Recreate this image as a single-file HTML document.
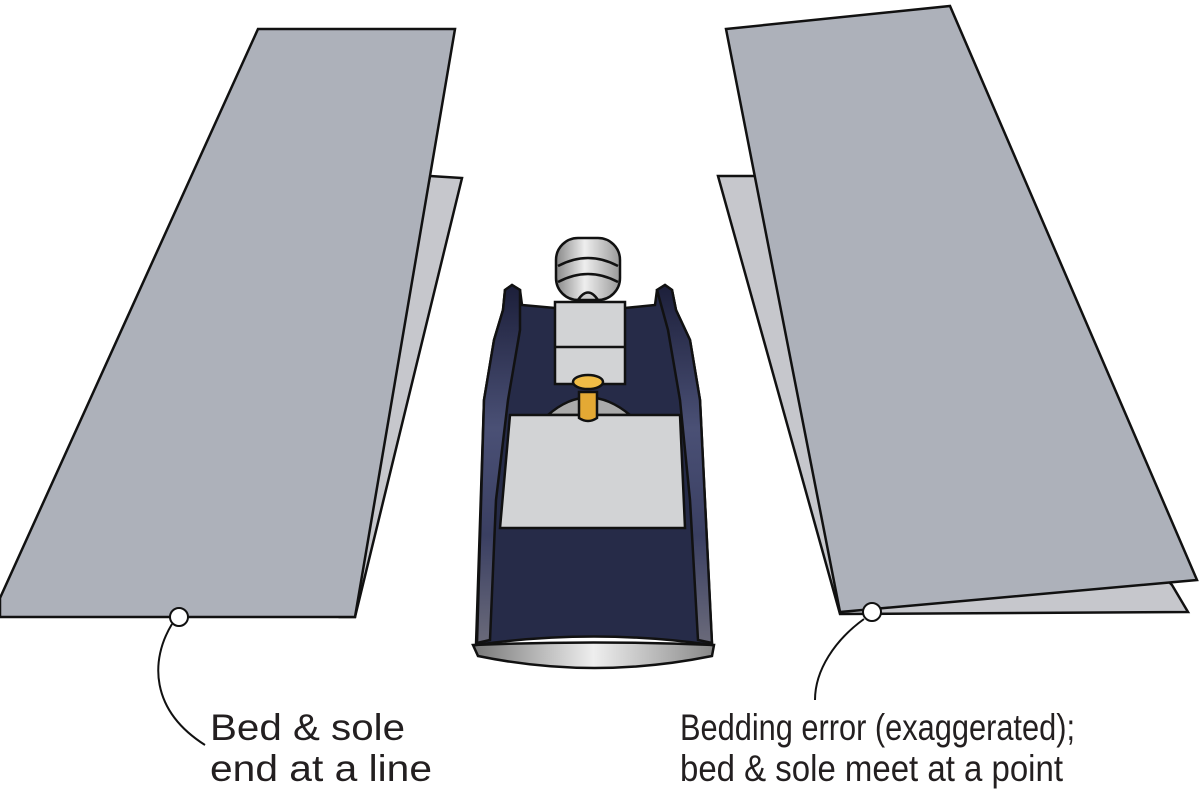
<!DOCTYPE html>
<html><head><style>body{margin:0;background:#fff}svg{display:block}text{font-family:"Liberation Sans",sans-serif;font-size:37px;fill:#231f20}</style></head><body>
<svg width="1200" height="799" viewBox="0 0 1200 799" xmlns="http://www.w3.org/2000/svg">
<defs>
<linearGradient id="sole" x1="0" x2="1"><stop offset="0" stop-color="#777"/><stop offset=".5" stop-color="#eee"/><stop offset="1" stop-color="#888"/></linearGradient>
<linearGradient id="knob" x1="0" x2="1"><stop offset="0" stop-color="#888"/><stop offset=".45" stop-color="#eee"/><stop offset="1" stop-color="#999"/></linearGradient>
<linearGradient id="rail" x1="0" y1="0" x2="0" y2="1"><stop offset="0" stop-color="#1c1f3a"/><stop offset=".4" stop-color="#4a5075"/><stop offset=".7" stop-color="#3a3f62"/><stop offset="1" stop-color="#6a6a7a"/></linearGradient>
</defs>
<g stroke="#111" stroke-width="2.5" stroke-linejoin="miter">
<polygon points="430,176 462,178 355,617 340,617" fill="#c6c7cc"/>
<polygon points="258,29 455,29 355,617 0,617 0,598" fill="#adb1ba"/>
<polygon points="718,176 760,176 1172,585 1188,612 840,614" fill="#c6c7cc"/>
<polygon points="726,29 950,6 1197,580 840,612" fill="#adb1ba"/>
</g>
<g stroke="#111" stroke-width="2" fill="none">
<path d="M172,624 C150,660 150,710 205,745"/>
<path d="M864,619 C835,640 815,670 815,700"/>
</g>
<circle cx="179" cy="617" r="9" fill="#fff" stroke="#111" stroke-width="2"/>
<circle cx="872" cy="612" r="9" fill="#fff" stroke="#111" stroke-width="2"/>
<g stroke="#111" stroke-width="2.5">
<path d="M473,645 L478,656 Q594,680 712,656 L714,645 Q594,640 473,645 Z" fill="url(#sole)"/>
<path d="M505,290 L512,285 L520,290 L522,305 L555,308 L625,308 L655,305 L657,290 L665,285 L672,290 L676,310 L690,340 L700,400 L712,645 Q594,628 476,645 L484,400 L494,340 L503,310 Z" fill="#262b48"/>
<path d="M505,290 L512,285 L520,290 L520,330 L508,400 L496,500 L490,640 L477,643 L484,400 L494,340 L503,310 Z" fill="url(#rail)"/>
<path d="M657,290 L665,285 L672,290 L676,310 L690,340 L700,400 L712,643 L698,640 L690,500 L680,400 L668,330 Z" fill="url(#rail)"/>
<rect x="556" y="238" width="64" height="62" rx="22" fill="url(#knob)"/>
<path d="M558,266 Q588,250 618,266" fill="none"/>
<path d="M558,282 Q588,266 618,282" fill="none"/>
<path d="M578,300 Q588,285 598,300 Z" fill="#ccc"/>
<rect x="555" y="302" width="70" height="82" fill="#d2d3d5"/>
<line x1="555" y1="347" x2="625" y2="347"/>
<path d="M548,415 Q588,380 630,415 Z" fill="#aaa"/>
<path d="M510,415 L680,415 L685,528 L500,528 Z" fill="#d2d3d5"/>
<path d="M579,392 L597,392 L597,418 Q588,424 579,418 Z" fill="#e4a934"/>
<ellipse cx="588" cy="382" rx="15" ry="7" fill="#f0bc46"/>
</g>
<text x="210" y="740" textLength="195" lengthAdjust="spacingAndGlyphs">Bed &amp; sole</text>
<text x="210" y="781" textLength="222" lengthAdjust="spacingAndGlyphs">end at a line</text>
<text x="680" y="740" textLength="395" lengthAdjust="spacingAndGlyphs">Bedding error (exaggerated);</text>
<text x="680" y="781" textLength="383" lengthAdjust="spacingAndGlyphs">bed &amp; sole meet at a point</text>
</svg>
</body></html>
